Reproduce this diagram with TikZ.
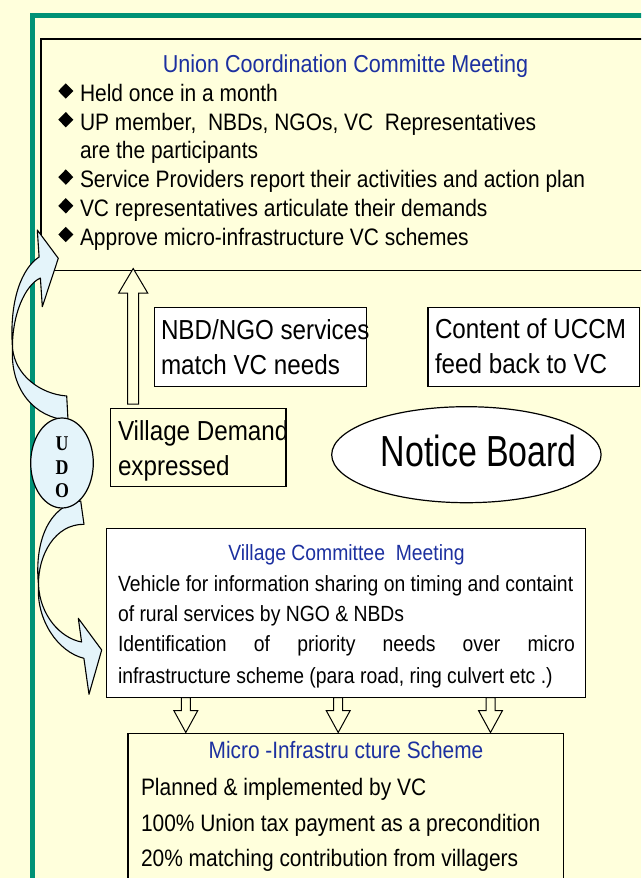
\documentclass[tikz,border=0pt]{standalone}
\usepackage{fontspec}
\setmainfont[FakeStretch=0.88]{Liberation Sans}
\newfontfamily\nbfont[FakeStretch=0.78]{Liberation Sans}
\newfontfamily\udofont[FakeStretch=0.85,BoldFont={Liberation Serif Bold}]{Liberation Serif}
\usetikzlibrary{shapes.geometric,calc}
\definecolor{bgyellow}{RGB}{255,255,220}
\definecolor{framegreen}{RGB}{0,146,118}
\definecolor{titleblue}{RGB}{28,48,160}
\definecolor{lightblue}{RGB}{228,244,250}
\newcommand\fsz[1]{\fontsize{#1}{#1}\selectfont}
\newcommand\bul[1]{\fill (58.3,#1) -- (65.8,#1-7.7) -- (73.3,#1) -- (65.8,#1+7.7) -- cycle;}
\newcommand\mydownarrow[2]{%
  \draw[blk] ($(#1)+(-4.5,0)$) -- ($(#2)+(-4.5,-22)$) -- ($(#2)+(-12,-22)$) -- (#2)
    -- ($(#2)+(12,-22)$) -- ($(#2)+(4.5,-22)$) -- ($(#1)+(4.5,0)$) -- cycle;}
\begin{document}
\begin{tikzpicture}[x=1pt,y=-1pt,
  box/.style={draw=black, line width=1.3pt, anchor=north west, inner sep=0pt},
  txt/.style={anchor=base west, inner sep=0pt, outer sep=0pt},
  ttl/.style={anchor=base, inner sep=0pt, outer sep=0pt, text=titleblue},
  blk/.style={draw=black, line width=1pt, fill=bgyellow, line join=miter},
  curv/.style={draw=black, line width=1.1pt, fill=lightblue, line join=round}]
\useasboundingbox (0,0) rectangle (641,878);
\clip (0,0) rectangle (641,878);
\fill[bgyellow] (0,0) rectangle (641,878);
% green frame
\fill[framegreen] (29.5,13.2) rectangle (660,18.4);
\fill[framegreen] (29.5,13.2) rectangle (34.8,900);
% UCCM box
\node[box, line width=1.7pt, fill=bgyellow, minimum width=640, minimum height=231.5] (uccm) at (40,38) {};
\node[ttl, font=\fsz{24.5}] (uccmT) at (345.5,72) {Union Coordination Committe Meeting};
\bul{91}\bul{119.7}\bul{177.1}\bul{205.8}\bul{234.5}
\node[txt, font=\fsz{23.8}] (b1) at (80,101.5) {Held once in a month};
\node[txt, font=\fsz{23.8}] (b2) at (80,130.2) {UP member,\ \ NBDs, NGOs, VC\ \ Representatives};
\node[txt, font=\fsz{23.8}] (b3) at (80,158.9) {are the participants};
\node[txt, font=\fsz{23.8}] (b4) at (80,187.6) {Service Providers report their activities and action plan};
\node[txt, font=\fsz{23.8}] (b5) at (80,216.3) {VC representatives articulate their demands};
\node[txt, font=\fsz{23.8}] (b6) at (80,245) {Approve micro-infrastructure VC schemes};
% middle boxes
\node[box, fill=white, minimum width=212.5, minimum height=78.5] (nbd) at (153.5,307) {};
\node[txt, font=\fsz{27.5}] (nbd1) at (161,339) {NBD/NGO services};
\node[txt, font=\fsz{27.5}] (nbd2) at (161,374) {match VC needs};
\node[box, fill=white, minimum width=211.7, minimum height=78.5] (cont) at (427.3,307) {};
\node[txt, font=\fsz{27.5}] (cont1) at (435,338) {Content of UCCM};
\node[txt, font=\fsz{27.5}] (cont2) at (435,373) {feed back to VC};
\node[box, fill=bgyellow, minimum width=175.3, minimum height=78.5] (vd) at (110,407.5) {};
\node[txt, font=\fsz{27.5}] (vd1) at (118,440) {Village Demand};
\node[txt, font=\fsz{27.5}] (vd2) at (118,475) {expressed};
\node[draw=black, line width=1.2pt, fill=white, ellipse, minimum width=269.4, minimum height=96, inner sep=0pt] (nb) at (466.4,454.7) {};
\node[anchor=base, inner sep=0pt, font=\nbfont\fsz{43.5}] (nbT) at (478.8,466) {Notice Board};
% up block arrow
\coordinate (upB) at (133.2,404);
\coordinate (upT) at (133.2,268.5);
\draw[blk] ($(upB)+(-5.5,0)$) -- ($(upT)+(-5.5,24.5)$) -- ($(upT)+(-14.5,24.5)$) -- (upT)
  -- ($(upT)+(14.5,24.5)$) -- ($(upT)+(5.5,24.5)$) -- ($(upB)+(5.5,0)$) -- cycle;
% VCM box
\node[box, fill=white, minimum width=479.5, minimum height=169.5] (vcm) at (105.5,527.5) {};
\node[ttl, font=\fsz{22}] (vcmT) at (346.5,560) {Village Committee\ \ Meeting};
\node[txt, font=\fsz{22}] (v1) at (118,591.7) {Vehicle for information sharing on timing and containt};
\node[txt, font=\fsz{22}] (v2) at (118,621.7) {of rural services by NGO \& NBDs};
\node[txt, font=\fsz{22}] (v3) at (118,651.7) {\makebox[457pt][s]{Identification of priority needs over micro}};
\node[txt, font=\fsz{22}] (v4) at (118,683.3) {infrastructure scheme (para road, ring culvert etc .)};
% Micro box
\node[box, fill=bgyellow, minimum width=435.7, minimum height=200] (mis) at (127.3,732.7) {};
\node[ttl, font=\fsz{23.7}] (misT) at (346,758.5) {Micro -Infrastru cture Scheme};
\node[txt, font=\fsz{23.8}] (m1) at (141,795) {Planned \& implemented by VC};
\node[txt, font=\fsz{23.8}] (m2) at (141,831.7) {100\% Union tax payment as a precondition};
\node[txt, font=\fsz{23.8}] (m3) at (141,866.7) {20\% matching contribution from villagers};
% down block arrows
\coordinate (d1a) at (185.8,697.5); \coordinate (d1b) at (185.8,732.5);
\coordinate (d2a) at (338.2,697.5); \coordinate (d2b) at (338.2,732.5);
\coordinate (d3a) at (490.5,697.5); \coordinate (d3b) at (490.5,732.5);
\mydownarrow{d1a}{d1b}
\mydownarrow{d2a}{d2b}
\mydownarrow{d3a}{d3b}
% curved arrow up to UCCM
\draw[curv] (12.5,348) .. controls (10,390) and (35,418) .. (68,420) -- (66.7,396)
  .. controls (40,394) and (15,375) .. (12.5,348) -- cycle;
\draw[curv] (37.3,230) -- (58.3,258.3) -- (42.3,306.7) -- (40.4,278)
  .. controls (25,285) and (12,315) .. (12.5,348)
  .. controls (9,300) and (22,268) .. (39.1,257) -- cycle;
% curved arrow down to VCM
\draw[curv] (80.7,501) .. controls (50,505) and (34,540) .. (38.5,585)
  .. controls (38,555) and (55,524) .. (84,524.3) -- cycle;
\draw[curv] (38.5,585) .. controls (40,615) and (60,638) .. (81.6,642) -- (78.3,618.3)
  -- (101.7,650) -- (89,694.3) -- (83.9,658.3)
  .. controls (58,652) and (36,620) .. (38.5,585) -- cycle;
% UDO ellipse
\node[draw=black, line width=1.2pt, fill=lightblue, ellipse, minimum width=62.6, minimum height=90, inner sep=0pt] (udo) at (62,463) {};
\node[anchor=base, inner sep=0pt, font=\udofont\bfseries\fsz{21}] (u1) at (62,450) {U};
\node[anchor=base, inner sep=0pt, font=\udofont\bfseries\fsz{21}] (u2) at (62,474) {D};
\node[anchor=base, inner sep=0pt, font=\udofont\bfseries\fsz{21}] (u3) at (62,497.5) {O};
\end{tikzpicture}
\end{document}
